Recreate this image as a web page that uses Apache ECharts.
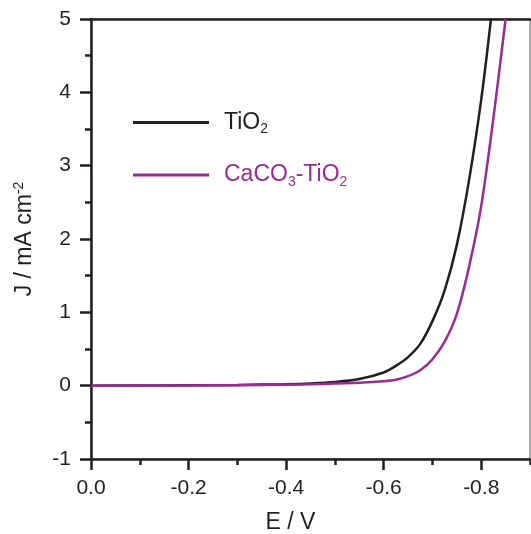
<!DOCTYPE html>
<html><head><meta charset="utf-8">
<script src="https://cdn.jsdelivr.net/npm/echarts@6/dist/echarts.min.js"></script>
<style>html,body{margin:0;padding:0;background:#fff}#c{width:531px;height:534px}</style>
</head><body><div id="c"></div>
<script>
// ---- data ----
const tio2E = [0, -0.1, -0.2, -0.3, -0.4, -0.45, -0.5, -0.55, -0.6, -0.625, -0.65, -0.675, -0.7, -0.725, -0.75, -0.775, -0.8, -0.82];
const tio2J = [0, 0.002, 0.005, 0.01, 0.02, 0.03, 0.05, 0.09, 0.18, 0.27, 0.39, 0.57, 0.88, 1.30, 1.92, 2.80, 3.90, 5.0];
const cacoE = [0, -0.1, -0.2, -0.3, -0.4, -0.45, -0.5, -0.55, -0.6, -0.625, -0.65, -0.675, -0.7, -0.725, -0.75, -0.775, -0.8, -0.825, -0.85];
const cacoJ = [0, 0.001, 0.003, 0.006, 0.012, 0.018, 0.03, 0.04, 0.06, 0.08, 0.13, 0.21, 0.36, 0.60, 0.98, 1.62, 2.45, 3.65, 5.0];
const xMajorTicks = [0, -0.2, -0.4, -0.6, -0.8];
const xMinorTicks = [-0.1, -0.3, -0.5, -0.7, -0.9];
const seriesNames = ['TiO2', 'CaCO3-TiO2'];
const legendLabels = {'TiO2': 'TiO{s|2}', 'CaCO3-TiO2': 'CaCO{s|3}-TiO{s|2}'};

const zip = (a, b) => a.map((v, i) => [v, b[i]]);
const FONT = 'Liberation Sans, Arial, sans-serif';
const BLACK = '#231f20', PURPLE = '#9a2b95';
const colors = [BLACK, PURPLE];

const chart = echarts.init(document.getElementById('c'));
chart.setOption({
  animation: false,
  grid: {left: 91, right: 1, top: 19, bottom: 75, show: true, borderColor: '#555', borderWidth: 1,
         outerBoundsMode: 'none', containLabel: false},
  legend: {
    orient: 'vertical', left: 133, top: 111, itemGap: 27, padding: 0,
    itemWidth: 76, itemHeight: 3, icon: 'rect',
    data: seriesNames.map((n, i) => ({name: n, textStyle: {color: colors[i]}})),
    formatter: n => legendLabels[n],
    textStyle: {fontFamily: FONT, fontSize: 23, padding: [0, 0, 0, 10],
      rich: {s: {fontFamily: FONT, fontSize: 14, padding: [14, 0, 0, 0]}}},
    itemStyle: {borderWidth: 0}
  },
  xAxis: [{
    type: 'value', min: -0.9, max: 0, inverse: true, position: 'bottom',
    splitLine: {show: false},
    axisLine: {show: true, onZero: false, lineStyle: {color: BLACK, width: 2.5}},
    axisTick: {show: true, customValues: xMajorTicks, length: 11, lineStyle: {color: BLACK, width: 2.5}},
    axisLabel: {customValues: xMajorTicks, margin: 19, fontFamily: FONT, fontSize: 21, color: BLACK,
      formatter: v => v.toFixed(1)},
    name: 'E / V', nameLocation: 'middle', nameGap: 52,
    nameTextStyle: {fontFamily: FONT, fontSize: 23, color: BLACK, padding: [0, 40, 0, 0]}
  }, {
    type: 'value', min: -0.9, max: 0, inverse: true, position: 'bottom',
    splitLine: {show: false},
    axisLine: {show: false, onZero: false},
    axisTick: {show: true, customValues: xMinorTicks, length: 6, lineStyle: {color: BLACK, width: 2.5}},
    axisLabel: {show: false}
  }, {
    type: 'value', min: -0.9, max: 0, inverse: true, position: 'top',
    splitLine: {show: false},
    axisLine: {show: true, onZero: false, lineStyle: {color: BLACK, width: 2.5}},
    axisTick: {show: false}, axisLabel: {show: false}
  }],
  yAxis: {
    type: 'value', min: -1, max: 5, interval: 1,
    splitLine: {show: false},
    axisLine: {show: true, onZero: false, lineStyle: {color: BLACK, width: 2.5}},
    axisTick: {show: true, length: 11, lineStyle: {color: BLACK, width: 2.5}},
    minorTick: {show: true, splitNumber: 2, length: 6, lineStyle: {color: BLACK, width: 2.5}},
    axisLabel: {margin: 20, fontFamily: FONT, fontSize: 21, color: BLACK},
    name: 'J / mA cm{sup|-2}', nameLocation: 'middle', nameGap: 53, nameRotate: 90,
    nameTextStyle: {fontFamily: FONT, fontSize: 23, color: BLACK,
      rich: {sup: {fontFamily: FONT, fontSize: 14, color: BLACK, padding: [0, 0, 12, 0]}}}
  },
  series: [{
    name: seriesNames[0], type: 'line', xAxisIndex: 0, data: zip(tio2E, tio2J),
    smooth: 0.3, showSymbol: false, symbol: 'none',
    lineStyle: {color: BLACK, width: 2.5}, itemStyle: {color: BLACK}
  }, {
    name: seriesNames[1], type: 'line', xAxisIndex: 0, data: zip(cacoE, cacoJ),
    smooth: 0.3, showSymbol: false, symbol: 'none',
    lineStyle: {color: PURPLE, width: 2.5}, itemStyle: {color: PURPLE}
  }]
});
</script></body></html>
